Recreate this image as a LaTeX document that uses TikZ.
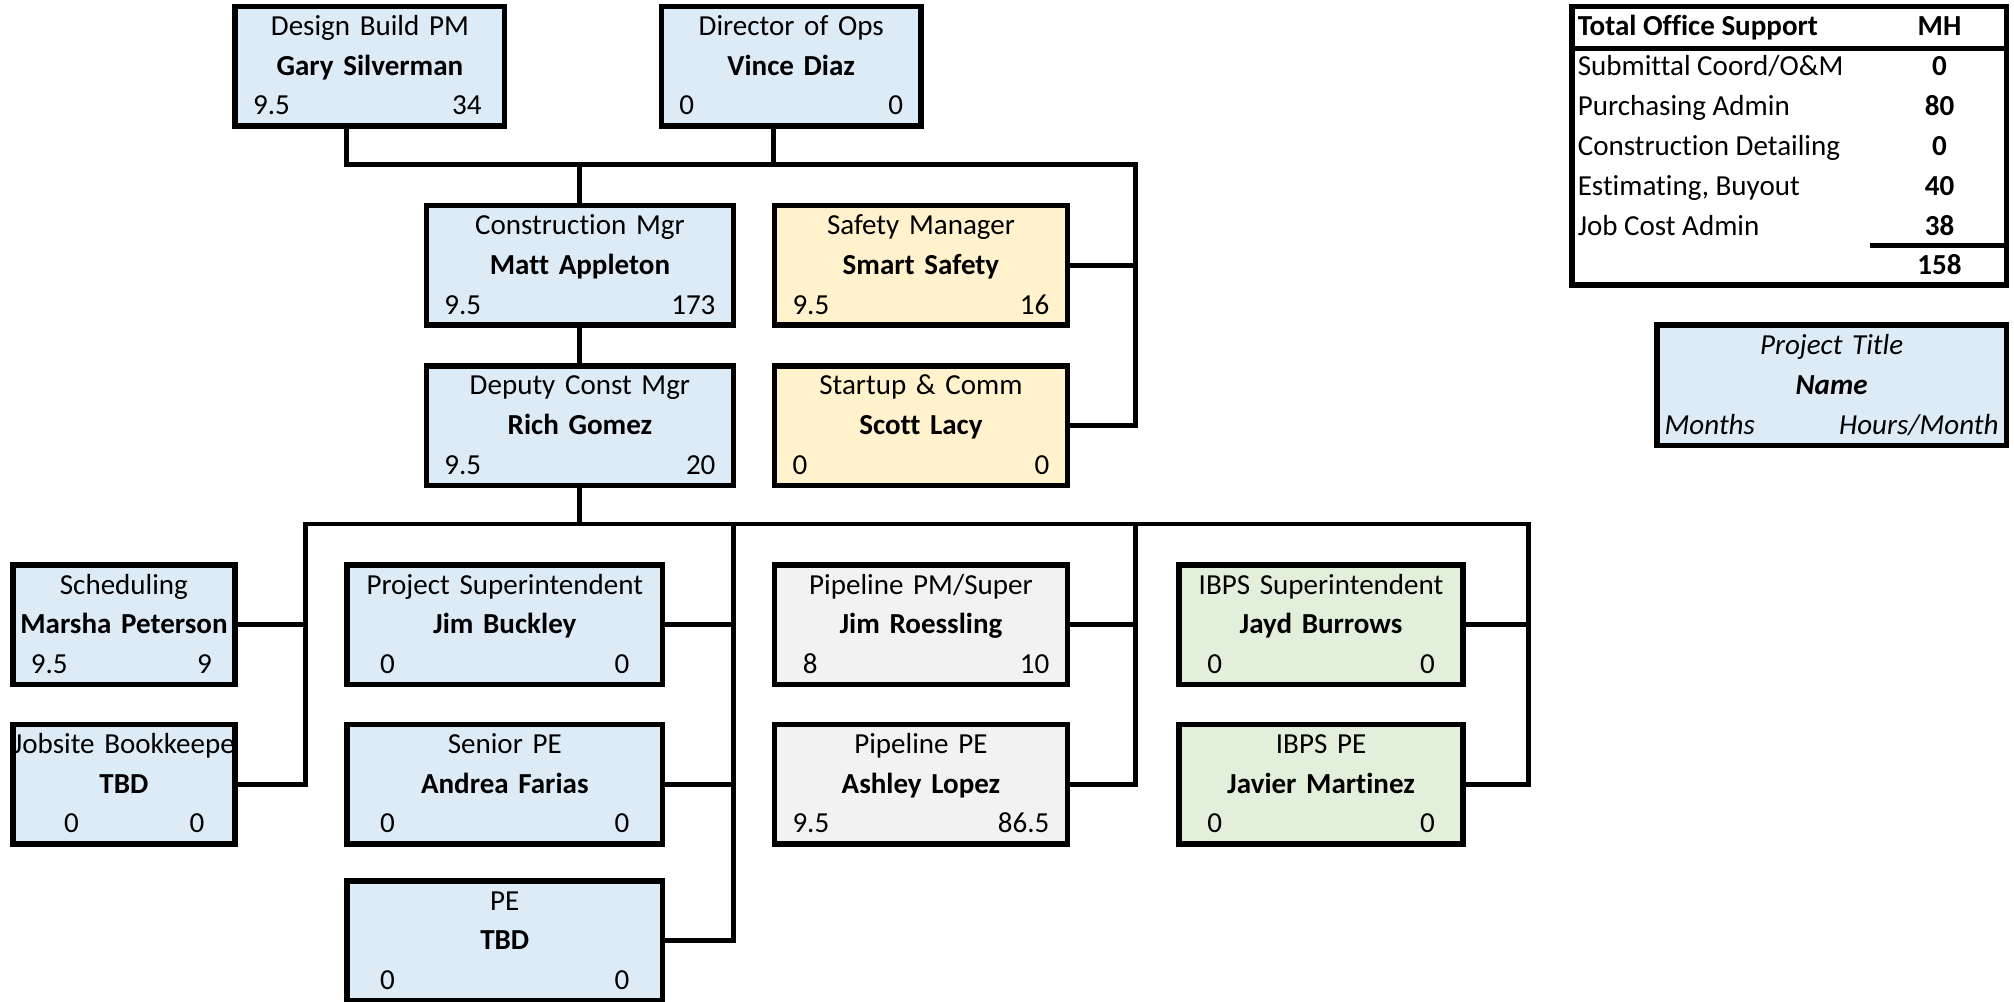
\documentclass[tikz,border=0pt]{standalone}
\usepackage{fontspec}
\setmainfont[Ligatures=NoCommon]{Carlito}
\definecolor{boxblue}{HTML}{DDEBF7}
\definecolor{boxyellow}{HTML}{FFF2CC}
\definecolor{boxgray}{HTML}{F2F2F2}
\definecolor{boxgreen}{HTML}{E2EFDA}
\newcommand{\rgap}[1]{\hspace*{#1}\mbox{}}
\tikzset{
  orgbox/.style={draw, line width=2.1pt, fill=boxblue, minimum height=46.5pt,
    align=center, inner xsep=7pt, inner ysep=0pt, outer sep=0pt,
    text height=8pt, text depth=32pt, font=\fontsize{11.3}{15.5}\selectfont},
  link/.style={line width=1.9pt},
  cell/.style={inner sep=0pt, font=\fontsize{11.3}{13}\selectfont}
}
\begin{document}
\begin{tikzpicture}[x=0.5pt, y=-0.5pt]
			\useasboundingbox (0,0) rectangle (1568,780);
			
			%%%%% TOP %%%%%
			\node[orgbox, text width=91pt] (dbpm) at (288,51.5) {Design Build PM\\\textbf{Gary Silverman}\\9.5\hfill 34\rgap{2pt}};
			\node[orgbox, text width=87pt] (dirops) at (616,51.5) {Director of Ops\\\textbf{Vince Diaz}\\0\hfill 0};
			
			\node[orgbox, text width=105.5pt] (constmgr) at (451.5,206.5) {Construction Mgr\\\textbf{Matt Appleton}\\9.5\hfill 173};
			\node[orgbox, fill=boxyellow, text width=100pt] (safety) at (717,206.5) {Safety Manager\\\textbf{Smart Safety}\\9.5\hfill 16};
			\node[orgbox, text width=105.5pt] (deputy) at (451.5,331.5) {Deputy Const Mgr\\\textbf{Rich Gomez}\\9.5\hfill 20};
			\node[orgbox, fill=boxyellow, text width=100pt] (startup) at (717,331.5) {Startup \& Comm\\\textbf{Scott Lacy}\\0\hfill 0};
			
			%%%%% FIELD STAFF %%%%%
			\node[orgbox, text width=72.5pt] (sched) at (96.5,486.5) {Scheduling\\\makebox[\linewidth]{\textbf{Marsha Peterson}}\\9.5\hfill 9\rgap{2pt}};
			\node[orgbox, text width=72.5pt] (keeper) at (96.5,610.5) {\makebox[\linewidth]{Jobsite Bookkeepe}\\\textbf{TBD}\\\hspace*{13pt}0\hfill 0\rgap{5pt}};
			
			\node[orgbox, text width=109pt] (projsup) at (393,486.5) {Project Superintendent\\\textbf{Jim Buckley}\\\hspace*{6pt}0\hfill 0\rgap{6pt}};
			\node[orgbox, text width=109pt] (srpe) at (393,610.5) {Senior PE\\\textbf{Andrea Farias}\\\hspace*{6pt}0\hfill 0\rgap{6pt}};
			\node[orgbox, text width=109pt] (pe) at (393,732.5) {PE\\\textbf{TBD}\\\hspace*{6pt}0\hfill 0\rgap{6pt}};
			
			\node[orgbox, fill=boxgray, text width=100pt] (pipesup) at (717,486.5) {Pipeline PM/Super\\\textbf{Jim Roessling}\\\hspace*{4pt}8\hfill 10};
			\node[orgbox, fill=boxgray, text width=100pt] (pipepe) at (717,610.5) {Pipeline PE\\\textbf{Ashley Lopez}\\9.5\hfill 86.5};
			
			\node[orgbox, fill=boxgreen, text width=96.5pt] (ibpssup) at (1028.5,486.5) {IBPS Superintendent\\\textbf{Jayd Burrows}\\\hspace*{4pt}0\hfill 0\rgap{4pt}};
			\node[orgbox, fill=boxgreen, text width=96.5pt] (ibpspe) at (1028.5,610.5) {IBPS PE\\\textbf{Javier Martinez}\\\hspace*{4pt}0\hfill 0\rgap{4pt}};
			
			%%%%% LINES %%%%%
			\coordinate (topl) at (270,128);
			\coordinate (topr) at (884,128);
			\coordinate (opsdrop) at (602,128);
			\draw[link] (topl |- dbpm.south) -- (topl) -- (topr) |- (startup.east);
			\draw[link] (opsdrop |- dirops.south) -- (opsdrop);
			\draw[link] (constmgr.north) -- (constmgr.north |- topl);
			\draw[link] (safety.east) -- (safety.east -| topr);
			\draw[link] (constmgr.south) -- (deputy.north);
			
			\coordinate (lowl) at (238,408);
			\coordinate (lowr) at (1190,408);
			\coordinate (colb) at (571,408);
			\coordinate (colc) at (884,408);
			\draw[link] (deputy.south) -- (deputy.south |- lowl);
			\draw[link] (keeper.east) -| (lowl) -- (lowr) |- (ibpspe.east);
			\draw[link] (sched.east) -- (sched.east -| lowl);
			\draw[link] (colb) |- (pe.east);
			\draw[link] (projsup.east) -- (projsup.east -| colb);
			\draw[link] (srpe.east) -- (srpe.east -| colb);
			\draw[link] (colc) |- (pipepe.east);
			\draw[link] (pipesup.east) -- (pipesup.east -| colc);
			\draw[link] (ibpssup.east) -- (ibpssup.east -| lowr);
			
			%%%%% OFFICE SUPPORT TABLE %%%%%
			\draw[line width=2.1pt] (1224,5) rectangle (1562,222);
			\draw[line width=2.1pt] (1224,38) -- (1562,38);
			\node[cell, anchor=base west] (tothead) at (1228,28) {\textbf{Total Office Support}};
			\node[cell, anchor=base] (mhhead) at (1510,28) {\textbf{MH}};
			\foreach \lbl/\val [count=\i] in {{Submittal Coord/O\&M}/0, Purchasing Admin/80, Construction Detailing/0, {Estimating, Buyout}/40, Job Cost Admin/38}
			{
				\node[cell, anchor=base west] (row\i) at (1228,{59+31*(\i-1)}) {\lbl};
				\node[cell, anchor=base] (val\i) at (1510,{59+31*(\i-1)}) {\textbf{\val}};
			}
			\draw[line width=1.9pt] (1456,191) -- (1562,191);
			\node[cell, anchor=base] (total) at (1510,214) {\textbf{158}};
			
			%%%%% KEY %%%%%
			\node[orgbox, inner xsep=3pt, text width=130pt, minimum height=47pt] (legend) at (1426,300) {\textit{Project Title}\\\textbf{\textit{Name}}\\\textit{Months}\hfill\textit{Hours/Month}};
			
\end{tikzpicture}
\end{document}
